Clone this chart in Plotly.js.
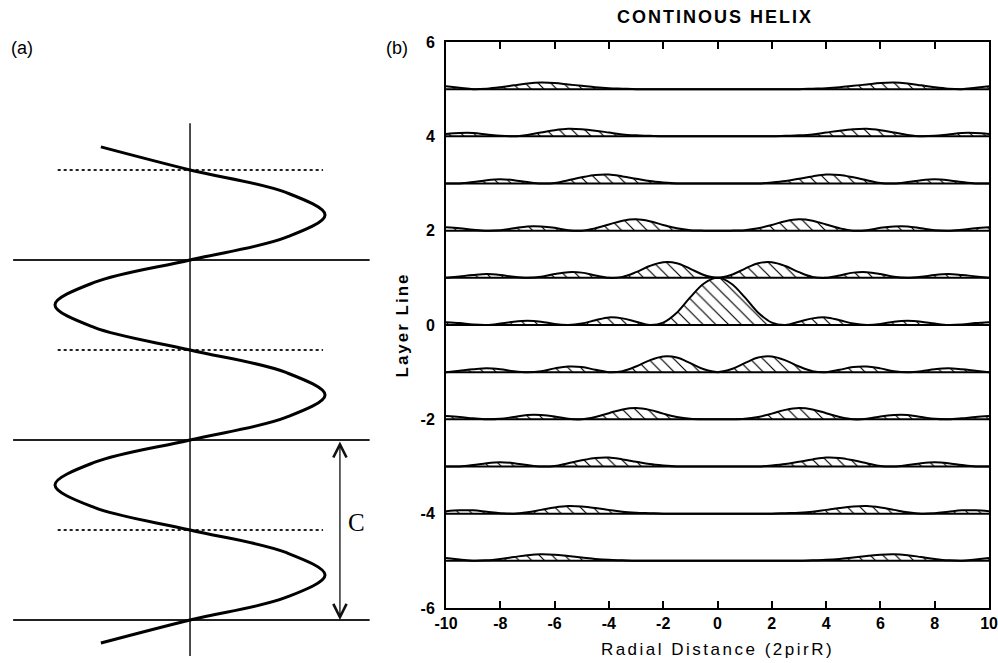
<!DOCTYPE html>
<html>
<head>
<meta charset="utf-8">
<script src="https://cdn.plot.ly/plotly-3.0.1.min.js"></script>
<style>
  html, body { margin: 0; padding: 0; background: #ffffff; }
  #chart { width: 998px; height: 663px; }
</style>
</head>
<body>
<div id="chart"></div>
<script>
// ---------- (b) layer-line intensity profiles ----------
// radial coordinate 2*pi*r*R, sampled every 0.5
const RADIAL = [-10, -9.5, -9, -8.5, -8, -7.5, -7, -6.5, -6, -5.5, -5, -4.5, -4, -3.5, -3, -2.5, -2, -1.5, -1, -0.5,
                0, 0.5, 1, 1.5, 2, 2.5, 3, 3.5, 4, 4.5, 5, 5.5, 6, 6.5, 7, 7.5, 8, 8.5, 9, 9.5, 10];

// intensity above each layer line (same profile for +n and -n)
const PROFILE_0 = [0.06, 0.04, 0.01, 0.00, 0.03, 0.07, 0.09, 0.07, 0.02, 0.00, 0.03, 0.10, 0.16, 0.14, 0.07, 0.00, 0.05, 0.26, 0.59, 0.88,
                   1.00, 0.88, 0.59, 0.26, 0.05, 0.00, 0.07, 0.14, 0.16, 0.10, 0.03, 0.00, 0.02, 0.07, 0.09, 0.07, 0.03, 0.00, 0.01, 0.04, 0.06];
const PROFILE_1 = [0.00, 0.03, 0.06, 0.08, 0.06, 0.02, 0.00, 0.02, 0.08, 0.12, 0.11, 0.05, 0.00, 0.02, 0.12, 0.25, 0.33, 0.31, 0.19, 0.06,
                   0.00, 0.06, 0.19, 0.31, 0.33, 0.25, 0.12, 0.02, 0.00, 0.05, 0.11, 0.12, 0.08, 0.02, 0.00, 0.02, 0.06, 0.08, 0.06, 0.03, 0.00];
const PROFILE_2 = [0.07, 0.05, 0.02, 0.00, 0.01, 0.05, 0.09, 0.09, 0.06, 0.01, 0.00, 0.05, 0.13, 0.21, 0.24, 0.20, 0.12, 0.05, 0.01, 0.00,
                   0.00, 0.00, 0.01, 0.05, 0.12, 0.20, 0.24, 0.21, 0.13, 0.05, 0.00, 0.01, 0.06, 0.09, 0.09, 0.05, 0.01, 0.00, 0.02, 0.05, 0.07];
const PROFILE_3 = [0.00, 0.00, 0.03, 0.07, 0.09, 0.07, 0.03, 0.00, 0.01, 0.07, 0.13, 0.18, 0.19, 0.15, 0.10, 0.05, 0.02, 0.00, 0.00, 0.00,
                   0.00, 0.00, 0.00, 0.00, 0.02, 0.05, 0.10, 0.15, 0.19, 0.18, 0.13, 0.07, 0.01, 0.00, 0.03, 0.07, 0.09, 0.07, 0.03, 0.00, 0.00];
const PROFILE_4 = [0.05, 0.07, 0.07, 0.04, 0.01, 0.00, 0.03, 0.08, 0.13, 0.16, 0.15, 0.12, 0.08, 0.04, 0.02, 0.01, 0.00, 0.00, 0.00, 0.00,
                   0.00, 0.00, 0.00, 0.00, 0.00, 0.01, 0.02, 0.04, 0.08, 0.12, 0.15, 0.16, 0.13, 0.08, 0.03, 0.00, 0.01, 0.04, 0.07, 0.07, 0.05];
const PROFILE_5 = [0.06, 0.03, 0.00, 0.01, 0.04, 0.08, 0.12, 0.14, 0.13, 0.10, 0.07, 0.04, 0.02, 0.01, 0.00, 0.00, 0.00, 0.00, 0.00, 0.00,
                   0.00, 0.00, 0.00, 0.00, 0.00, 0.00, 0.00, 0.01, 0.02, 0.04, 0.07, 0.10, 0.13, 0.14, 0.12, 0.08, 0.04, 0.01, 0.00, 0.03, 0.06];

const LAYER_LINES = [5, 4, 3, 2, 1, 0, -1, -2, -3, -4, -5];
const PROFILES = [PROFILE_0, PROFILE_1, PROFILE_2, PROFILE_3, PROFILE_4, PROFILE_5];

const X_TICKS = [-10, -8, -6, -4, -2, 0, 2, 4, 6, 8, 10];
const X_TICK_TEXT = ['-10', '-8', '-6', '-4', '-2', '0', '2', '4', '6', '8', '10'];
const Y_TICKS = [-6, -4, -2, 0, 2, 4, 6];
const Y_TICK_TEXT = ['-6', '-4', '-2', '0', '2', '4', '6'];

// ---------- (a) helix projection ----------
const HELIX_X = [-0.66, 0, 0.71, 1, 0.71, 0, -0.71, -1, -0.71, 0, 0.71, 1, 0.71, 0, -0.71, -1, -0.71, 0, 0.71, 1, 0.71, 0, -0.66];
const HELIX_Y = [2.628, 2.5, 2.375, 2.25, 2.125, 2.0, 1.875, 1.75, 1.625, 1.5, 1.375, 1.25, 1.125, 1.0, 0.875, 0.75, 0.625, 0.5, 0.375, 0.25, 0.125, 0, -0.128];
const PITCH_LEVELS = [0, 1, 2];          // solid lines, one pitch apart
const HALF_PITCH_LEVELS = [0.5, 1.5, 2.5]; // dotted lines
const AXIS_SPAN = [-0.2, 2.76];
const PITCH_EXTENT = [-1.31, 1.33];
const HALF_PITCH_EXTENT = [-0.98, 0.985];
const PITCH_ARROW = { x: 1.11, from: 0, to: 1, label: 'C', labelX: 1.23, labelY: 0.54 };

const SANS = 'Liberation Sans Narrow, Liberation Sans, Arial, sans-serif';
const traces = [];

// layer lines with hatched intensity
LAYER_LINES.forEach(function (n) {
  const prof = PROFILES[Math.abs(n)];
  traces.push({
    type: 'scatter', mode: 'lines', x: [RADIAL[0], RADIAL[RADIAL.length - 1]], y: [n, n],
    line: { color: '#000', width: 2 }, hoverinfo: 'skip', xaxis: 'x', yaxis: 'y'
  });
  traces.push({
    type: 'scatter', mode: 'lines', x: RADIAL, y: prof.map(function (v) { return n + v; }),
    line: { color: '#000', width: 2, shape: 'spline', smoothing: 1 },
    fill: 'tonexty', fillcolor: 'rgba(0,0,0,0)',
    fillpattern: { shape: '\\', size: 9, solidity: 0.13, fgcolor: '#000', fgopacity: 1, bgcolor: 'rgba(0,0,0,0)' },
    hoverinfo: 'skip', xaxis: 'x', yaxis: 'y'
  });
});

// panel (a)
traces.push({
  type: 'scatter', mode: 'lines', x: [0, 0], y: AXIS_SPAN,
  line: { color: '#111', width: 1.5 }, xaxis: 'x2', yaxis: 'y2', hoverinfo: 'skip'
});
PITCH_LEVELS.forEach(function (lv) {
  traces.push({
    type: 'scatter', mode: 'lines', x: PITCH_EXTENT, y: [lv, lv],
    line: { color: '#222', width: 2 }, xaxis: 'x2', yaxis: 'y2', hoverinfo: 'skip'
  });
});
HALF_PITCH_LEVELS.forEach(function (lv) {
  traces.push({
    type: 'scatter', mode: 'lines', x: HALF_PITCH_EXTENT, y: [lv, lv],
    line: { color: '#222', width: 2, dash: 'dot' }, xaxis: 'x2', yaxis: 'y2', hoverinfo: 'skip'
  });
});
traces.push({
  type: 'scatter', mode: 'lines', x: HELIX_X, y: HELIX_Y,
  line: { color: '#000', width: 3, shape: 'spline', smoothing: 1 },
  xaxis: 'x2', yaxis: 'y2', hoverinfo: 'skip'
});

const tickFont = { family: SANS, size: 16, color: '#000', weight: 'bold' };

const layout = {
  width: 998, height: 663,
  margin: { l: 0, r: 0, t: 0, b: 0 },
  paper_bgcolor: '#fff', plot_bgcolor: 'rgba(0,0,0,0)',
  showlegend: false,
  title: {
    text: 'CONTINOUS HELIX', x: 0.7164, xanchor: 'center', xref: 'paper',
    y: 0.975, yanchor: 'middle', yref: 'paper',
    font: { family: SANS, size: 18, color: '#000', weight: 'bold' }
  },
  xaxis: {
    domain: [0.4469, 0.9910], range: [-10, 10],
    tickmode: 'array', tickvals: X_TICKS, ticktext: X_TICK_TEXT,
    ticks: 'inside', ticklen: 7, tickwidth: 2, tickcolor: '#000',
    showline: true, linewidth: 2, linecolor: '#000', mirror: 'allticks',
    showgrid: false, zeroline: false, tickfont: tickFont, ticklabeloverflow: 'allow',
    title: { text: 'Radial Distance (2pirR)', standoff: 12,
             font: { family: 'Liberation Sans, Arial, sans-serif', size: 17, color: '#000' } }
  },
  yaxis: {
    domain: [0.0830, 0.9367], range: [-6, 6],
    tickmode: 'array', tickvals: Y_TICKS, ticktext: Y_TICK_TEXT,
    ticks: '', showline: true, linewidth: 2, linecolor: '#000', mirror: true,
    showgrid: false, zeroline: false, tickfont: tickFont, ticklabelstandoff: 6,
    title: { text: 'Layer Line', standoff: 8,
             font: { family: 'Liberation Sans, Arial, sans-serif', size: 17, color: '#000', weight: 'bold' } }
  },
  xaxis2: { domain: [0, 0.3808], range: [-1.407, 1.407], visible: false, anchor: 'y2' },
  yaxis2: { domain: [0, 1], range: [-0.239, 3.444], visible: false, anchor: 'x2' },
  annotations: [
    { text: '(a)', xref: 'paper', yref: 'paper', x: 22 / 998, y: 1 - 48 / 663,
      xanchor: 'center', yanchor: 'middle', showarrow: false,
      font: { family: 'Liberation Sans, Arial, sans-serif', size: 18, color: '#000' } },
    { text: '(b)', xref: 'paper', yref: 'paper', x: 397 / 998, y: 1 - 48 / 663,
      xanchor: 'center', yanchor: 'middle', showarrow: false,
      font: { family: 'Liberation Sans, Arial, sans-serif', size: 18, color: '#000' } },
    { text: '', xref: 'x2', yref: 'y2', x: PITCH_ARROW.x, y: PITCH_ARROW.from,
      axref: 'x2', ayref: 'y2', ax: PITCH_ARROW.x, ay: PITCH_ARROW.to,
      showarrow: true, arrowhead: 5, startarrowhead: 5, arrowside: 'end+start',
      arrowsize: 2, startarrowsize: 2, arrowwidth: 1.3, arrowcolor: '#111', standoff: 0, startstandoff: 0 },
    { text: PITCH_ARROW.label, xref: 'x2', yref: 'y2', x: PITCH_ARROW.labelX, y: PITCH_ARROW.labelY,
      xanchor: 'center', yanchor: 'middle', showarrow: false,
      font: { family: 'Liberation Serif, Times New Roman, serif', size: 25, color: '#000' } }
  ]
};

Plotly.newPlot('chart', traces, layout, { staticPlot: true, displayModeBar: false }).then(function () {
  // spaced lettering for the title and axis captions
  document.querySelectorAll('.gtitle').forEach(function (el) { el.style.letterSpacing = '2px'; });
  document.querySelectorAll('.xtitle').forEach(function (el) { el.style.letterSpacing = '2.5px'; });
  document.querySelectorAll('.ytitle').forEach(function (el) { el.style.letterSpacing = '2px'; });
});
</script>
</body>
</html>
